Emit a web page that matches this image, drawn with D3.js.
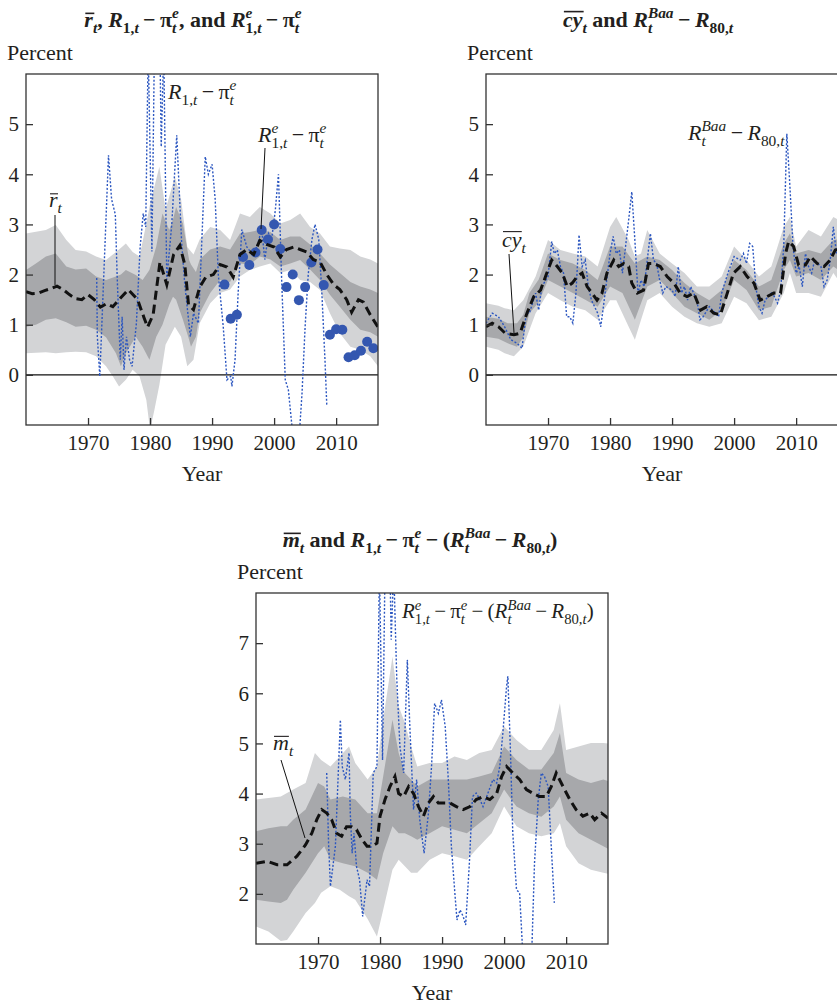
<!DOCTYPE html>
<html>
<head>
<meta charset="utf-8">
<script src="https://cdn.jsdelivr.net/npm/d3@7"></script>
<style>
body { margin: 0; background: #fff; }
svg text { font-family: "Liberation Serif", "Times New Roman", serif; fill: #231f20; }
</style>
</head>
<body>
<div id="chart"></div>
<script>
// ---- data ------------------------------------------------------------
var yearTicks = [1970, 1980, 1990, 2000, 2010];

// panel 1: r-bar, R1 - pi^e, R^e1 - pi^e
var rMean = [[1960,1.66],[1961,1.62],[1962,1.63],[1963,1.68],[1964,1.72],[1965,1.77],[1966,1.7],[1967,1.6],[1968,1.52],[1969,1.5],[1970,1.6],[1971,1.5],[1972,1.35],[1973,1.42],[1974,1.36],[1975,1.5],[1976.5,1.7],[1978,1.5],[1979,1.15],[1979.6,0.95],[1980.5,1.2],[1981.6,2.25],[1982.7,1.8],[1983.8,2.4],[1984.8,2.58],[1985.6,2.2],[1986.2,1.4],[1987,1.3],[1988,1.75],[1989,1.95],[1990.2,2.0],[1991.3,2.2],[1992.4,2.15],[1993.4,1.95],[1994.5,2.4],[1995.6,2.5],[1996.7,2.4],[1997.7,2.68],[1998.8,2.6],[2000,2.55],[2001,2.35],[2002,2.5],[2003.2,2.55],[2004.2,2.5],[2005.3,2.45],[2006.3,2.3],[2007.4,2.25],[2008.5,2.0],[2009.6,1.8],[2010.6,1.7],[2011.7,1.5],[2012.5,1.25],[2013.6,1.5],[2014.4,1.45],[2015.5,1.2],[2016.75,0.95]];
var rInner = [[1960,0.96,2.09],[1961.6,1.0,2.22],[1963.2,1.1,2.36],[1964.8,1.13,2.42],[1966.5,1.05,2.16],[1968,0.96,2.1],[1969.7,0.98,2.12],[1971.3,0.9,1.96],[1972.9,0.75,1.89],[1974.5,0.43,1.96],[1975.3,0.17,2.0],[1976.1,0.43,2.09],[1977.7,0.76,1.99],[1978.8,0.56,1.89],[1979.9,0.3,2.09],[1981,0.76,2.56],[1982,1.0,3.22],[1983.1,1.4,2.89],[1983.7,1.56,3.1],[1984.2,1.5,3.35],[1985.3,1.1,3.02],[1986.3,0.7,2.29],[1986.6,0.56,2.2],[1987.4,0.76,2.05],[1988,1.23,2.3],[1989.7,1.63,2.5],[1991.3,1.89,2.56],[1992.9,1.85,2.5],[1994.5,2.22,2.82],[1996.1,2.2,2.85],[1997.7,2.36,2.89],[1999.4,2.3,2.85],[2001,2.16,2.69],[2002.6,2.22,2.76],[2004.2,2.29,2.76],[2005.8,2.1,2.6],[2007.4,1.89,2.42],[2009,1.6,2.2],[2010.6,1.36,2.03],[2012.3,1.1,1.85],[2013.9,0.9,1.76],[2015.5,0.85,1.7],[2016.75,0.76,1.63]];
var rOuter = [[1960,0.43,2.82],[1963.2,0.45,2.89],[1964.8,0.43,2.99],[1966.5,0.45,2.69],[1968,0.46,2.49],[1969.7,0.45,2.46],[1971.3,0.37,2.36],[1972.9,0.17,2.29],[1974,-0.03,2.4],[1975,-0.23,2.5],[1976.1,-0.1,2.62],[1977.2,0.1,2.45],[1978.3,-0.03,2.36],[1979.4,-0.5,3.02],[1980,-1.1,3.4],[1980.7,-0.7,3.75],[1981.5,-0.2,4.15],[1982.5,0.6,3.3],[1984,0.96,3.95],[1985,0.76,3.5],[1986,0.17,2.55],[1987,0.3,2.4],[1988,1.03,2.7],[1989.7,1.43,2.95],[1991.3,1.63,2.89],[1992.9,1.7,2.69],[1994.5,1.96,3.22],[1996.1,2.09,3.15],[1997.7,2.16,3.35],[1999.4,2.22,3.22],[2001,2.03,3.02],[2002.6,2.09,3.09],[2004.2,1.89,3.22],[2005.8,1.85,2.95],[2007.4,1.69,2.82],[2009,1.23,2.56],[2010.6,0.83,2.52],[2012.3,0.56,2.49],[2013.9,0.5,2.36],[2015.5,0.37,2.3],[2016.75,0.17,2.22]];
var rRealRate = [[1971.4,1.93],[1971.5,0.76],[1971.9,-0.03],[1973.3,4.38],[1973.8,3.5],[1974.4,3.2],[1974.7,1.96],[1975.2,0.3],[1975.5,1.16],[1975.8,0.1],[1976.2,0.76],[1976.7,0.3],[1977.1,0.17],[1977.8,1.03],[1978.4,2.55],[1978.9,3.22],[1979.3,2.95],[1979.7,6.5],[1980.3,2.46],[1980.7,6.5],[1981.6,6.5],[1981.8,4.55],[1982.2,6.5],[1982.7,1.9],[1983.5,3.0],[1984.3,4.78],[1985.1,2.62],[1985.6,1.8],[1986.5,0.76],[1987,1.23],[1987.8,1.03],[1988.9,4.35],[1989.4,4.0],[1990,4.2],[1990.5,3.5],[1991,2.0],[1991.8,0.96],[1992.4,-0.1],[1993,-0.03],[1993.2,-0.23],[1993.7,0.3],[1994.2,1.63],[1994.8,2.9],[1995.6,2.55],[1996.4,2.42],[1997.2,2.55],[1998,2.9],[1998.5,2.3],[1999.1,2.82],[1999.6,2.7],[2000.2,3.29],[2000.7,4.0],[2001.2,1.96],[2001.8,-0.1],[2002.3,-0.3],[2003.1,-1.3],[2003.9,-1.5],[2004.5,-0.37],[2005,0.96],[2005.5,2.0],[2006.1,2.7],[2006.6,3.0],[2007.2,2.7],[2007.7,1.63],[2008.2,0.3],[2008.5,-0.63]];
var dotYears = [1992,1993,1994,1995,1996,1997,1998,1999,2000,2001,2002,2003,2004,2005,2006,2007,2008,2009,2010,2011,2012,2013,2014,2015,2016];
var dotValues = [1.8,1.12,1.2,2.35,2.19,2.44,2.89,2.7,3.0,2.51,1.75,2.0,1.49,1.75,2.24,2.5,1.79,0.8,0.91,0.9,0.35,0.39,0.48,0.66,0.53];

// panel 2: cy-bar and Baa spread
var cyMean = [[1960,0.96],[1961,1.03],[1962,0.96],[1963.1,0.83],[1964.5,0.8],[1965.5,0.83],[1966.6,1.23],[1967.7,1.56],[1968.8,1.69],[1969.8,2.03],[1970.6,2.29],[1971.5,2.16],[1972.3,2.03],[1973.1,1.76],[1973.9,1.83],[1974.7,1.96],[1975.5,2.03],[1976.3,1.76],[1977.1,1.63],[1977.9,1.49],[1978.7,1.63],[1979.5,2.03],[1980.6,2.29],[1981.4,2.16],[1982.2,2.22],[1983,2.16],[1983.5,1.83],[1984.4,1.63],[1985.4,1.69],[1986.2,2.22],[1987,2.22],[1988.1,2.16],[1989.2,1.96],[1990.3,1.83],[1991.3,1.63],[1992.4,1.56],[1993.5,1.63],[1994.6,1.29],[1995.6,1.36],[1996.7,1.23],[1997.8,1.2],[1998.9,1.63],[1999.9,2.03],[2001,2.16],[2002.1,1.96],[2003.2,1.83],[2004.2,1.49],[2005.3,1.56],[2006.4,1.63],[2007.5,1.63],[2008.3,2.42],[2008.8,2.66],[2009.6,2.56],[2010.4,2.19],[2011.5,2.19],[2012.3,2.36],[2013.4,2.22],[2014.5,2.16],[2015.5,2.29],[2016.3,2.49],[2016.75,2.5]];
var cyInner = [[1960,0.76,1.16],[1962,0.72,1.12],[1963.5,0.63,1.03],[1965,0.56,1.03],[1966,0.75,1.2],[1967,1.23,1.63],[1968.5,1.45,1.9],[1970,1.89,2.42],[1972,1.76,2.29],[1974,1.63,2.22],[1976,1.5,2.09],[1978,1.36,1.89],[1980,1.76,2.56],[1982,1.63,2.56],[1984,1.1,2.22],[1986,1.76,2.36],[1988,1.89,2.29],[1990,1.63,2.09],[1992,1.36,1.83],[1994,1.23,1.63],[1996,1.1,1.49],[1998,1.29,1.69],[2000,1.89,2.29],[2002,1.69,2.09],[2004,1.29,1.76],[2006,1.36,1.89],[2008,2.09,2.62],[2009,2.29,2.82],[2010,1.96,2.42],[2012,2.03,2.49],[2014,1.89,2.42],[2016,2.16,2.69],[2016.75,2.1,2.7]];
var cyOuter = [[1960,0.56,1.43],[1962,0.5,1.38],[1963,0.43,1.33],[1964.5,0.37,1.29],[1966,0.56,1.49],[1968,1.23,1.96],[1970,1.63,2.69],[1972,1.49,2.49],[1974,1.36,2.42],[1976,1.29,2.36],[1978,1.1,2.16],[1980,1.49,2.95],[1981,1.49,3.15],[1983,0.96,2.69],[1984,0.7,2.36],[1985,1.1,2.42],[1986,1.49,2.89],[1988,1.63,2.42],[1990,1.36,2.22],[1992,1.16,2.03],[1994,1.03,1.76],[1996,0.96,1.76],[1998,1.03,1.96],[2000,1.56,2.56],[2002,1.43,2.29],[2004,1.09,1.96],[2006,1.16,2.16],[2008,1.63,2.95],[2009,2.03,3.15],[2010,1.63,2.56],[2012,1.63,2.89],[2014,1.56,2.76],[2016,2.03,3.15],[2016.75,1.9,3.1]];
var baaSpread = [[1960,1.03],[1961,1.23],[1962,1.16],[1963,0.96],[1964,0.7],[1965,0.63],[1965.8,0.53],[1966.5,1.23],[1967,1.23],[1968,1.63],[1968.5,1.29],[1969,1.76],[1970,1.96],[1970.6,2.66],[1971,2.42],[1971.5,2.49],[1972,2.16],[1972.5,2.03],[1973,1.16],[1973.5,1.16],[1974,1.03],[1974.5,1.63],[1975,2.79],[1975.5,2.16],[1976,2.29],[1976.5,1.76],[1977,1.49],[1978,1.23],[1978.5,0.96],[1979,1.43],[1980,2.42],[1980.5,2.76],[1981,2.42],[1981.5,2.49],[1982,2.03],[1982.5,2.56],[1983,3.09],[1983.5,3.65],[1984,2.69],[1984.5,1.63],[1985,1.89],[1985.5,1.76],[1986,2.29],[1986.5,2.82],[1987,2.29],[1987.5,2.22],[1988,1.89],[1988.5,1.63],[1989,1.76],[1990,1.69],[1990.5,1.56],[1991,2.16],[1991.5,1.63],[1992,1.76],[1992.5,1.49],[1993,1.76],[1994,1.49],[1994.5,1.1],[1995,1.16],[1996,1.36],[1997,1.23],[1997.5,1.16],[1998,1.63],[1999,2.03],[2000,2.36],[2001,2.29],[2001.5,2.42],[2002,2.22],[2002.5,2.62],[2003,2.56],[2003.5,1.76],[2004,1.36],[2004.5,1.23],[2005,1.49],[2006,1.63],[2006.5,1.56],[2007,1.43],[2007.5,1.69],[2008,2.56],[2008.5,4.81],[2009,3.75],[2009.5,2.56],[2010,2.03],[2010.5,2.16],[2011,1.76],[2011.5,2.42],[2012,2.16],[2012.5,2.03],[2013,2.29],[2014,2.16],[2014.5,1.76],[2015,1.89],[2015.5,2.29],[2016,2.95],[2016.5,2.42]];

// panel 3: m-bar and R1 - pi^e - Baa spread
var mMean = [[1960,2.61],[1961.8,2.65],[1963.4,2.58],[1965,2.58],[1966.6,2.75],[1968,2.98],[1969,3.21],[1969.8,3.48],[1970.6,3.68],[1971.4,3.61],[1972.2,3.48],[1973,3.21],[1973.8,3.15],[1974.6,3.34],[1975.4,3.34],[1976.2,3.28],[1977.1,3.08],[1977.9,2.95],[1978.7,2.95],[1979.5,3.01],[1980,3.55],[1980.8,3.88],[1981.6,4.14],[1982.4,4.34],[1983,4.0],[1983.8,3.94],[1984.6,4.14],[1985.4,4.0],[1986.2,3.74],[1987,3.55],[1987.8,3.81],[1988.6,3.94],[1989.4,3.81],[1990.2,3.81],[1991.3,3.81],[1992.3,3.74],[1993.4,3.68],[1994.5,3.74],[1995.5,3.88],[1996.6,3.94],[1997.7,3.88],[1998.8,4.0],[1999.6,4.34],[2000.4,4.54],[2001.4,4.41],[2002.5,4.28],[2003.6,4.08],[2004.7,4.0],[2005.7,3.94],[2006.8,3.94],[2007.6,4.14],[2008.4,4.41],[2009.5,4.14],[2010.6,3.88],[2011.6,3.68],[2012.7,3.55],[2013.8,3.61],[2014.6,3.48],[2015.7,3.61],[2016.75,3.51]];
var mInner = [[1960,1.88,3.25],[1962,1.85,3.31],[1964,1.82,3.35],[1965,1.88,3.35],[1966,2.08,3.48],[1968,2.42,3.68],[1970,2.81,4.21],[1971,2.95,4.14],[1972,2.68,3.88],[1974,2.61,3.94],[1976,2.55,3.88],[1978,2.42,3.61],[1979.5,2.28,3.61],[1980.5,2.81,4.34],[1982,3.35,5.47],[1983,3.21,4.81],[1984,3.21,4.41],[1985,3.15,4.28],[1986,3.08,4.14],[1988,3.21,4.28],[1990,3.35,4.28],[1992,3.28,4.28],[1994,3.21,4.28],[1996,3.41,4.34],[1998,3.61,4.41],[2000,4.08,4.94],[2002,3.74,4.67],[2004,3.61,4.48],[2006,3.54,4.48],[2008,3.74,4.81],[2009,3.94,5.21],[2010,3.48,4.41],[2012,3.21,4.28],[2014,3.08,4.21],[2016,2.95,4.28],[2016.75,2.9,4.25]];
var mOuter = [[1960,1.35,3.88],[1962,1.25,3.91],[1964,1.06,3.94],[1965,1.08,4.01],[1966,1.25,4.08],[1968,1.62,4.21],[1969.5,1.82,4.81],[1970.5,2.02,4.67],[1972,2.15,4.54],[1973.5,2.08,4.74],[1975,1.95,4.94],[1976,1.88,4.61],[1978,1.5,4.28],[1979.5,1.15,4.54],[1980.5,1.68,5.47],[1982,2.48,6.73],[1983,2.68,5.74],[1984,2.55,5.41],[1985,2.42,4.94],[1986,2.42,4.54],[1988,2.68,4.61],[1990,2.81,4.61],[1992,2.75,4.74],[1994,2.68,4.67],[1996,2.95,4.81],[1998,3.21,4.87],[2000,3.74,5.34],[2002,3.35,5.07],[2004,3.21,4.87],[2006,3.15,4.87],[2008,3.21,5.27],[2009,3.41,5.8],[2010,2.95,4.87],[2012,2.61,4.94],[2014,2.48,5.01],[2016,2.42,5.01],[2016.75,2.4,5.0]];
var mRate = [[1971.4,4.41],[1971.7,3.01],[1972,2.15],[1972.8,2.95],[1973.6,5.47],[1973.9,4.54],[1974.4,4.28],[1975,4.81],[1975.2,3.61],[1975.5,2.81],[1975.8,3.21],[1976.2,2.55],[1976.7,2.28],[1977.2,1.55],[1977.9,2.28],[1978.3,2.15],[1978.9,4.41],[1979.5,4.54],[1979.9,8.5],[1980.4,4.67],[1980.8,8.5],[1981.6,8.5],[1981.8,7.07],[1982.2,8.5],[1982.7,6.27],[1983.2,4.94],[1983.8,4.41],[1984.4,6.67],[1984.8,5.34],[1985.4,3.68],[1985.9,4.28],[1986.4,3.48],[1987.1,2.81],[1987.8,3.61],[1988.3,4.54],[1988.8,5.8],[1989.4,5.6],[1989.9,5.87],[1990.5,5.34],[1991,4.28],[1991.5,2.95],[1992.1,1.95],[1992.4,1.48],[1992.9,1.68],[1993.4,1.55],[1993.8,1.38],[1994.4,2.61],[1994.9,3.94],[1995.5,4.01],[1996.1,3.88],[1996.6,3.74],[1997.4,4.01],[1998.2,4.28],[1998.8,4.21],[1999.3,4.54],[1999.8,5.21],[2000.4,6.14],[2000.6,6.34],[2001,4.94],[2001.4,3.21],[2002,2.08],[2002.5,2.02],[2003.1,0.6],[2003.9,0.4],[2004.4,0.6],[2004.9,2.61],[2005.5,3.88],[2006,4.41],[2006.5,4.34],[2007.1,4.14],[2007.6,2.95],[2008.1,1.82]];

// ---- layout ---------------------------------------------------------
var plotW = 352, plotH = 351;
var xDomain = [1960, 2016.75];
var lightGrey = "#d3d4d6", darkGrey = "#a7a8ab", blue = "#2b56c0", dotBlue = "#3457b0";
var MINUS = "\u2009\u2212\u2009";

var svg = d3.select("#chart").append("svg")
    .attr("width", 837)
    .attr("height", 1005);

// text with italics, overbars and stacked sub/superscripts
function mathLabel(sel, x, y, size, parts, opts) {
    opts = opts || {};
    var t = sel.append("text").attr("x", x).attr("y", y).style("font-size", size + "px");
    if (opts.bold) t.style("font-weight", "bold");
    if (opts.anchor) t.attr("text-anchor", opts.anchor);
    var shift = 0, pendingDx = 0, bars = [];
    var small = size * 0.7;

    function add(str, italic, fs, target) {
        var s = t.append("tspan")
            .attr("dy", target - shift)
            .style("font-size", fs + "px")
            .style("font-style", italic ? "italic" : "normal")
            .text(str);
        if (pendingDx) { s.attr("dx", pendingDx); pendingDx = 0; }
        shift = target;
        return s;
    }
    function script(str, target) {
        var w = 0;
        str.match(/[A-Za-z]+|[^A-Za-z]+/g).forEach(function (run) {
            var s = add(run, /[A-Za-z]/.test(run), small, target);
            w += s.node().getComputedTextLength();
        });
        return w;
    }
    parts.forEach(function (p) {
        if (p.t) {
            var s = add(p.t, p.i, size, 0);
            if (p.bar) bars.push([s, p.bar]);
        } else {
            var supW = 0, subW = 0;
            if (p.sup) { supW = script(p.sup, -size * 0.4); pendingDx = -supW; }
            if (p.sub) { subW = script(p.sub, size * 0.27); }
            else pendingDx = 0;
            if (p.sup && p.sub && supW > subW) pendingDx = supW - subW;
        }
    });
    bars.forEach(function (b) {
        var bb = b[0].node().getBBox();
        sel.append("line")
            .attr("x1", bb.x + 1).attr("x2", bb.x + bb.width + (opts.bold ? 1 : 0))
            .attr("y1", y - size * b[1]).attr("y2", y - size * b[1])
            .style("stroke", "#231f20").style("stroke-width", opts.bold ? 1.6 : 1.1);
    });
    return t;
}

function drawPanel(p) {
    var x = d3.scaleLinear().domain(xDomain).range([p.left, p.left + plotW]);
    var y = d3.scaleLinear().domain(p.yDomain).range([p.top + plotH, p.top]);
    var g = svg.append("g");

    g.append("clipPath")
        .attr("id", p.id + "_clip")
        .append("rect")
        .attr("x", p.left).attr("y", p.top)
        .attr("width", plotW).attr("height", plotH);
    var plot = g.append("g").attr("clip-path", "url(#" + p.id + "_clip)");

    var band = d3.area()
        .x(function (d) { return x(d[0]); })
        .y0(function (d) { return y(d[1]); })
        .y1(function (d) { return y(d[2]); });
    var valueline = d3.line()
        .x(function (d) { return x(d[0]); })
        .y(function (d) { return y(d[1]); });

    plot.append("path").datum(p.outer).attr("d", band).style("fill", lightGrey);
    plot.append("path").datum(p.inner).attr("d", band).style("fill", darkGrey);

    if (p.zero) {
        plot.append("line")
            .attr("x1", p.left).attr("x2", p.left + plotW)
            .attr("y1", y(0)).attr("y2", y(0))
            .style("stroke", "#111").style("stroke-width", 1.2);
    }

    plot.append("path").datum(p.rate).attr("d", valueline)
        .style("fill", "none").style("stroke", blue)
        .style("stroke-width", 1.4).style("stroke-dasharray", "2,1.8");

    if (p.dots) {
        plot.selectAll("circle.dot").data(p.dots).enter().append("circle")
            .attr("class", "dot")
            .attr("cx", function (d) { return x(d[0]); })
            .attr("cy", function (d) { return y(d[1]); })
            .attr("r", 5)
            .style("fill", dotBlue);
    }

    plot.append("path").datum(p.mean).attr("d", valueline)
        .style("fill", "none").style("stroke", "#111")
        .style("stroke-width", 3).style("stroke-dasharray", "9,5");

    // frame and inward ticks
    g.append("rect")
        .attr("x", p.left).attr("y", p.top)
        .attr("width", plotW).attr("height", plotH)
        .style("fill", "none").style("stroke", "#333").style("stroke-width", 1.3);

    var xaxis = d3.axisBottom(x).tickValues(yearTicks).tickFormat(d3.format("d"))
        .tickSizeInner(-7).tickSizeOuter(0).tickPadding(10);
    var yaxis = d3.axisLeft(y).tickValues(p.yTicks).tickFormat(d3.format("d"))
        .tickSizeInner(-7).tickSizeOuter(0).tickPadding(7);

    [g.append("g").attr("transform", "translate(0," + (p.top + plotH) + ")").call(xaxis),
     g.append("g").attr("transform", "translate(" + p.left + ",0)").call(yaxis)].forEach(function (ax) {
        ax.attr("font-family", null).attr("font-size", null);
        ax.select(".domain").remove();
        ax.selectAll(".tick line").style("stroke", "#333").style("stroke-width", 1.3);
        ax.selectAll(".tick text").style("font-size", "21px").style("fill", "#231f20");
    });

    g.append("text")
        .attr("x", p.left + plotW / 2).attr("y", p.top + plotH + 56)
        .style("text-anchor", "middle").style("font-size", "22px")
        .text("Year");
    g.append("text")
        .attr("x", p.percentX).attr("y", p.top - 14)
        .style("font-size", "22px")
        .text("Percent");

    p.leaders.forEach(function (l) {
        g.append("line")
            .attr("x1", l[0]).attr("y1", l[1]).attr("x2", l[2]).attr("y2", l[3])
            .style("stroke", "#111").style("stroke-width", 1);
    });
}

// Draw the three panels ------------------------------
drawPanel({
    id: "real", left: 26, top: 74, yDomain: [-1, 6], yTicks: [0, 1, 2, 3, 4, 5], zero: true,
    outer: rOuter, inner: rInner, mean: rMean, rate: rRealRate,
    dots: dotYears.map(function (yr, i) { return [yr, dotValues[i]]; }),
    percentX: 7, leaders: [[55, 215, 55, 285], [265, 148, 261, 229]]
});
drawPanel({
    id: "conv", left: 486, top: 74, yDomain: [-1, 6], yTicks: [0, 1, 2, 3, 4, 5], zero: true,
    outer: cyOuter, inner: cyInner, mean: cyMean, rate: baaSpread,
    percentX: 467, leaders: [[509, 254, 514, 333]]
});
drawPanel({
    id: "safe", left: 256, top: 593, yDomain: [1, 8], yTicks: [2, 3, 4, 5, 6, 7], zero: false,
    outer: mOuter, inner: mInner, mean: mMean, rate: mRate,
    percentX: 237, leaders: [[281, 760, 305, 838]]
});

// titles ------------------------------
mathLabel(svg, 193, 27, 22, [
    {t: "r", i: true, bar: 0.62}, {sub: "t"}, {t: ", "}, {t: "R", i: true}, {sub: "1,t"},
    {t: MINUS + "\u03c0"}, {sup: "e", sub: "t"}, {t: ", and "}, {t: "R", i: true}, {sup: "e", sub: "1,t"},
    {t: MINUS + "\u03c0"}, {sup: "e", sub: "t"}
], {bold: true, anchor: "middle"});
mathLabel(svg, 648, 27, 22, [
    {t: "cy", i: true, bar: 0.7}, {sub: "t"}, {t: " and "}, {t: "R", i: true}, {sup: "Baa", sub: "t"},
    {t: MINUS}, {t: "R", i: true}, {sub: "80,t"}
], {bold: true, anchor: "middle"});
mathLabel(svg, 420, 547, 22, [
    {t: "m", i: true, bar: 0.62}, {sub: "t"}, {t: " and "}, {t: "R", i: true}, {sub: "1,t"},
    {t: MINUS + "\u03c0"}, {sup: "e", sub: "t"}, {t: MINUS + "("}, {t: "R", i: true}, {sup: "Baa", sub: "t"},
    {t: MINUS}, {t: "R", i: true}, {sub: "80,t"}, {t: ")"}
], {bold: true, anchor: "middle"});

// in-plot labels ------------------------------
mathLabel(svg, 49, 207, 22, [{t: "r", i: true, bar: 0.6}, {sub: "t"}]);
mathLabel(svg, 168, 99, 22, [{t: "R", i: true}, {sub: "1,t"}, {t: MINUS + "\u03c0"}, {sup: "e", sub: "t"}]);
mathLabel(svg, 258, 142, 22, [{t: "R", i: true}, {sup: "e", sub: "1,t"}, {t: MINUS + "\u03c0"}, {sup: "e", sub: "t"}]);
mathLabel(svg, 688, 140, 22, [{t: "R", i: true}, {sup: "Baa", sub: "t"}, {t: MINUS}, {t: "R", i: true}, {sub: "80,t"}]);
mathLabel(svg, 502, 247, 22, [{t: "cy", i: true, bar: 0.7}, {sub: "t"}]);
mathLabel(svg, 273, 750, 22, [{t: "m", i: true, bar: 0.62}, {sub: "t"}]);
mathLabel(svg, 402, 618, 21, [
    {t: "R", i: true}, {sup: "e", sub: "1,t"}, {t: MINUS + "\u03c0"}, {sup: "e", sub: "t"},
    {t: MINUS + "("}, {t: "R", i: true}, {sup: "Baa", sub: "t"}, {t: MINUS}, {t: "R", i: true}, {sub: "80,t"}, {t: ")"}
]);
</script>
</body>
</html>
